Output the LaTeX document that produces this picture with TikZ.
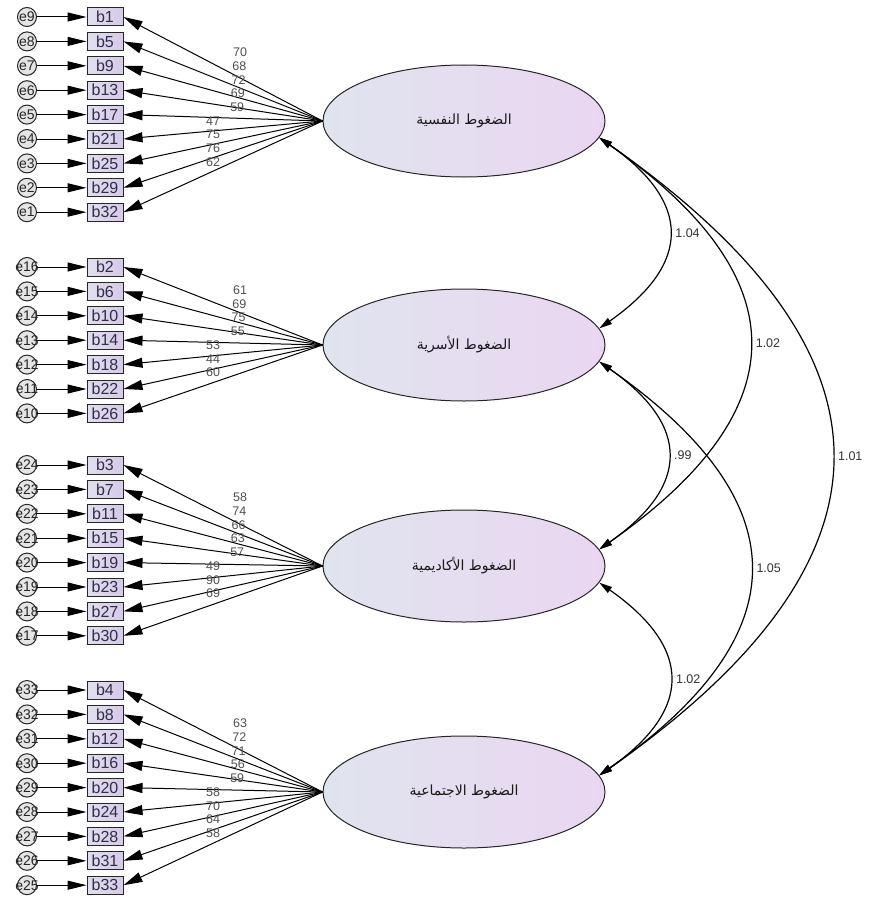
\documentclass[tikz,border=0pt]{standalone}
\usepackage{fontspec}
\setmainfont{Liberation Sans}
\newfontfamily\arabicfont[Script=Arabic]{DejaVu Sans}
\TeXXeTstate=1
\usepackage{tikz}
\usetikzlibrary{shapes.geometric,arrows.meta}
\definecolor{boxleft}{RGB}{226,222,238}
\definecolor{boxright}{RGB}{214,202,232}
\definecolor{facleft}{RGB}{224,228,238}
\definecolor{facright}{RGB}{234,214,242}
\definecolor{labgrey}{RGB}{80,80,80}
\definecolor{boxtext}{RGB}{50,45,75}
\tikzset{%
    itembox/.style={rectangle, draw=black!85, line width=1pt, minimum width=36pt,
        minimum height=18pt, inner sep=0pt, left color=boxleft, right color=boxright,
        text=boxtext, font=\fontsize{16}{16}\selectfont},
    errcirc/.style={circle, draw=black!85, line width=1pt, minimum size=19pt,
        inner sep=0pt, fill=black!10, text=black!85, font=\fontsize{14}{14}\selectfont},
    factor/.style={ellipse, draw=black!85, line width=1pt, minimum width=282pt,
        minimum height=112pt, left color=facleft, right color=facright,
        text=black!90, font=\fontsize{14}{14}\arabicfont},
    errpath/.style={line width=1pt, -{Triangle[length=19pt,width=9pt]}},
    loading/.style={line width=1pt, -{Triangle[length=19pt,width=10pt]}},
    covpath/.style={line width=1.2pt, out=-35, in=35, looseness=1.52,
        {Triangle[length=13pt,width=7pt]}-{Triangle[length=13pt,width=7pt]}},
    loadlab/.style={text=labgrey, inner sep=0pt, font=\fontsize{12.5}{13}\selectfont},
    covlab/.style={midway, right=6pt, text=black!80, inner sep=0pt,
        font=\fontsize{12.5}{13}\selectfont}
}
\begin{document}
\begin{tikzpicture}[x=1pt,y=1pt]
    \useasboundingbox (0,0) rectangle (871,-899);
    \node[factor] (psy) at (464,-121) {\beginR الضغوط النفسية\endR};
    \node[factor] (fam) at (464,-345) {\beginR الضغوط الأسرية\endR};
    \node[factor] (aca) at (464,-566) {\beginR الضغوط الأكاديمية\endR};
    \node[factor] (soc) at (464,-792) {\beginR الضغوط الاجتماعية\endR};
    \foreach \fac/\yc/\ys/\nup/\rows in {%
        psy/121/17/5/{1/9/70,5/8/68,9/7/72,13/6/69,17/5/59,21/4/47,25/3/75,29/2/76,32/1/62},
        fam/345/267/4/{2/16/61,6/15/69,10/14/75,14/13/55,18/12/53,22/11/44,26/10/60},
        aca/566/465/5/{3/24/58,7/23/74,11/22/66,15/21/63,19/20/57,23/19/49,27/18/90,30/17/69},
        soc/792/690/5/{4/33/63,8/32/72,12/31/71,16/30/56,20/29/59,24/28/58,28/27/70,31/26/64,33/25/58}}
    {
    \foreach \itm/\err/\wt [count=\row from 0] in \rows
    {
    \pgfmathsetmacro{\yy}{\ys+24.4*\row}
    \pgfmathsetmacro{\lx}{\row<\nup ? 240-0.7*\row : 213}
    \pgfmathsetmacro{\ly}{\yc+13.7*(\row-\nup)}
    \node[errcirc] (e\err) at (27,-\yy) {\makebox[0pt]{e\err}};
    \node[itembox] (b\itm) at (105,-\yy) {b\itm};
    \draw[errpath] (e\err) -- (b\itm);
    \draw[loading] (\fac.west) -- (b\itm.east);
    \node[loadlab] at (\lx,-\ly) {\wt};
    }
    }
    \draw[covpath] (psy.-7) to node[covlab]{1.04} (fam.7);
    \draw[covpath] (psy.-7) to node[covlab]{1.02} (aca.7);
    \draw[covpath] (psy.-7) to node[covlab]{1.01} (soc.7);
    \draw[covpath] (fam.-7) to node[covlab]{.99} (aca.7);
    \draw[covpath] (fam.-7) to node[covlab]{1.05} (soc.7);
    \draw[covpath] (aca.-7) to node[covlab]{1.02} (soc.7);
\end{tikzpicture}
\end{document}
